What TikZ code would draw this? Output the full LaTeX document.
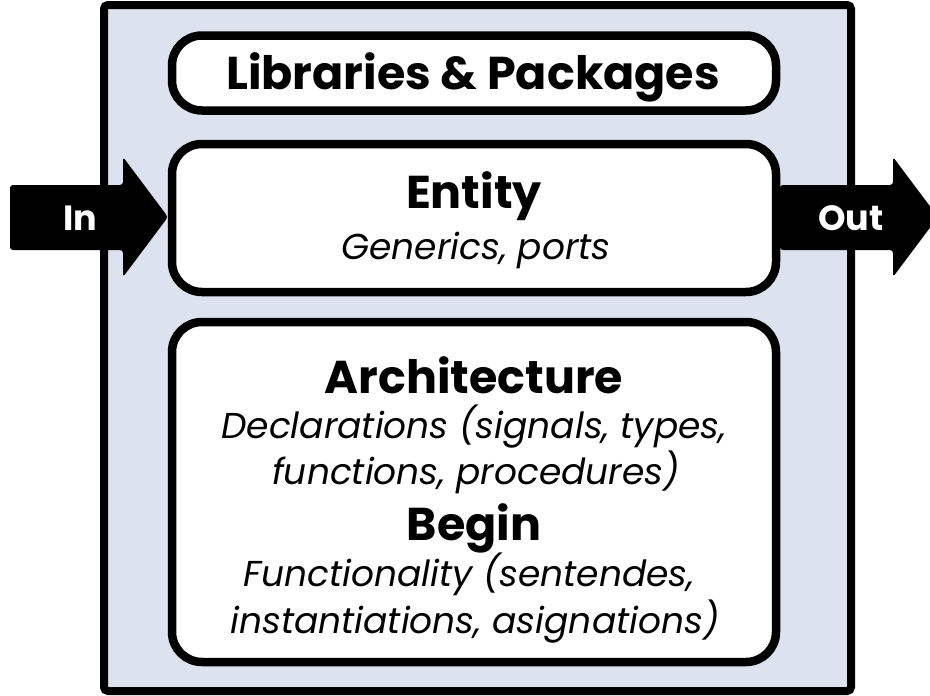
\documentclass[tikz,border=0pt]{standalone}
\usepackage{fontspec}
\setmainfont{Poppins}
\definecolor{bgblue}{RGB}{220,227,238}
\begin{document}
\begin{tikzpicture}[x=1pt,y=-1pt,
  frame/.style={draw=black,line width=8pt,fill=bgblue,rounded corners=4pt,inner sep=0pt},
  panel/.style={draw=black,line width=8.5pt,fill=white,rounded corners=30pt,inner sep=0pt,minimum width=604pt},
  title/.style={font=\bfseries\fontsize{46}{50}\selectfont,inner sep=0pt,anchor=base},
  sub/.style={font=\itshape\fontsize{36}{40}\selectfont,inner sep=0pt,anchor=base},
  fat/.style={fill=black,rounded corners=3pt},
  tag/.style={text=white,font=\bfseries\fontsize{35}{40}\selectfont,inner sep=0pt,anchor=base}]
\useasboundingbox (0,0) rectangle (930,696);
\clip (0,0) rectangle (930,696);
% outer frame
\node[frame,minimum width=747pt,minimum height=686pt] (outer) at (477.5,348) {};
% arrows
\fill[fat] (10,185) -- (123,185) -- (123,157) -- (168,217) -- (123,277) -- (123,250) -- (10,250) -- cycle;
\fill[fat] (780,185) -- (893,185) -- (893,157) -- (938,217) -- (893,277) -- (893,250) -- (780,250) -- cycle;
% panels
\node[panel,minimum height=75pt] (lib) at (474,73) {};
\node[panel,minimum height=148pt] (entity) at (474,218) {};
\node[panel,minimum height=340pt] (arch) at (474,492) {};
% texts
\node[title] (libt) at (473,89) {Libraries \& Packages};
\node[title] (entt) at (474,208) {Entity};
\node[sub] (ents) at (476,259) {Generics, ports};
\node[title] (archt) at (474,393) {Architecture};
\node[sub] (decl1) at (474,438) {Declarations (signals, types,};
\node[sub] (decl2) at (476,484) {functions, procedures)};
\node[title] (begt) at (474,540) {Begin};
\node[sub] (fun1) at (469,586) {Functionality (sentendes,};
\node[sub] (fun2) at (475,633) {instantiations, asignations)};
\node[tag] (in) at (80,230) {In};
\node[tag] (out) at (851,230) {Out};
\end{tikzpicture}
\end{document}
